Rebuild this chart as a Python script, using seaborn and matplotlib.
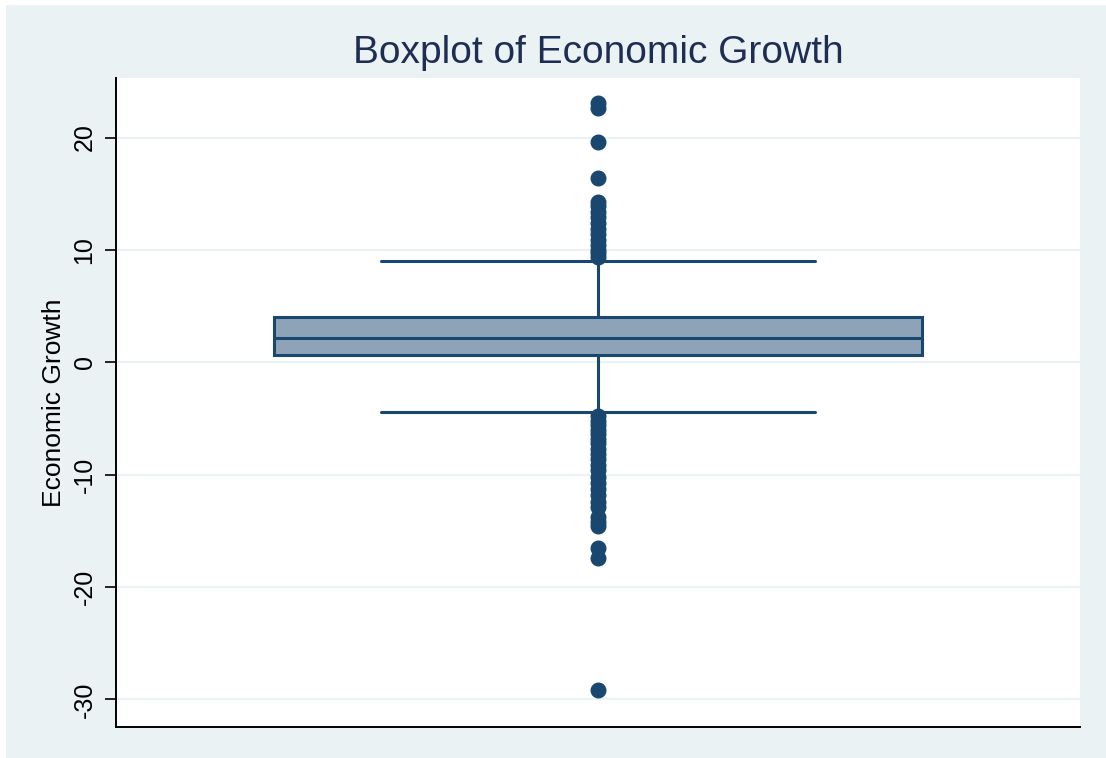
import matplotlib
matplotlib.use("Agg")
import matplotlib.pyplot as plt
import matplotlib.patches as mpatches
import seaborn as sns
import pandas as pd

# ---- data ----
lower_outliers = [-4.8, -5.2, -5.6, -6.0, -6.4, -6.8, -7.2, -7.7, -8.2, -8.6,
                  -9.1, -9.6, -10.2, -10.7, -11.3, -11.8, -12.4, -12.9, -13.8,
                  -14.2, -14.6, -16.5, -17.4, -29.2]
lower_tail = [-4.4, -3.5, -2.6, -1.8, -0.9, -0.2, 0.65]
lower_mid = [0.7, 0.75, 0.8, 0.9, 0.95, 1.0, 1.05, 1.1, 1.2, 1.25,
             1.3, 1.35, 1.4, 1.45, 1.5, 1.55, 1.6, 1.65, 1.7, 1.75,
             1.8, 1.85, 1.9, 1.95, 2.0, 2.05, 2.1, 2.12, 2.13]
median_value = [2.15]
upper_mid = [2.2, 2.3, 2.35, 2.4, 2.5, 2.55, 2.6, 2.7, 2.75, 2.8,
             2.9, 2.95, 3.0, 3.1, 3.15, 3.2, 3.3, 3.35, 3.4, 3.5,
             3.55, 3.6, 3.7, 3.75, 3.8, 3.85, 3.9, 3.95, 4.0]
upper_tail = [4.05, 4.4, 4.8, 5.1, 5.5, 5.9, 6.2, 6.6, 6.9, 7.3, 7.6,
              7.9, 8.3, 8.7, 9.0]
upper_outliers = [9.4, 9.7, 10.0, 10.4, 10.9, 11.4, 11.9, 12.4, 12.9, 13.4,
                  13.9, 14.3, 16.4, 19.6, 22.6, 23.1]
y_ticks = [-30, -20, -10, 0, 10, 20]
y_tick_labels = ["-30", "-20", "-10", "0", "10", "20"]
title_text = "Boxplot of Economic Growth"
y_label = "Economic Growth"

growth = (lower_outliers + lower_tail + lower_mid + median_value +
          upper_mid + upper_tail + upper_outliers)
df = pd.DataFrame({"growth": growth})

# ---- style ----
navy = "#1A476F"
fill = "#8EA3B8"
bg = "#EAF2F3"

sns.set_theme(style="white")
plt.rcParams["font.family"] = ["Liberation Sans", "DejaVu Sans"]
plt.rcParams["text.color"] = "black"
plt.rcParams["axes.labelcolor"] = "black"
plt.rcParams["ytick.color"] = "black"

fig = plt.figure(figsize=(11.06, 7.58), dpi=100)
fig.patch.set_facecolor("white")
fig.patches.append(mpatches.Rectangle((6 / 1106, 0), 1 - 6 / 1106, 753 / 758,
                                      transform=fig.transFigure,
                                      facecolor=bg, edgecolor="none", zorder=-10))

ax = fig.add_axes([116 / 1106, 1 - 727 / 758, (1080 - 116) / 1106, (727 - 78) / 758])
ax.set_facecolor("white")

sns.boxplot(data=df, y="growth", ax=ax, width=0.673, color=fill,
            linecolor=navy, linewidth=2.2, whis=1.5, saturation=1,
            capwidths=0.45,
            flierprops=dict(marker="o", markerfacecolor=navy,
                            markeredgecolor=navy, markersize=10.5),
            boxprops=dict(facecolor=fill, edgecolor=navy, linewidth=2.2),
            medianprops=dict(color=navy, linewidth=2.2),
            whiskerprops=dict(color=navy, linewidth=2.2),
            capprops=dict(color=navy, linewidth=2.2))

ax.set_xlim(-0.5, 0.5)
ax.set_ylim(-32.45, 25.3)
ax.set_yticks(y_ticks)
ax.set_yticklabels(y_tick_labels, rotation=90, va="center", fontsize=18,
                   color="black")
ax.set_xticks([])
ax.set_xlabel("")
ax.set_ylabel(y_label, fontsize=19, labelpad=5, color="black")

ax.yaxis.grid(True, color=bg, linewidth=1.6)
ax.xaxis.grid(False)
ax.set_axisbelow(True)
ax.tick_params(axis="y", which="major", left=True, length=8, width=1.2,
               color="black", labelcolor="black", pad=6)

for side in ["top", "right"]:
    ax.spines[side].set_visible(False)
for side in ["left", "bottom"]:
    ax.spines[side].set_visible(True)
    ax.spines[side].set_color("black")
    ax.spines[side].set_linewidth(1.4)

ax.set_title(title_text, fontsize=28, color="#1E2D53", pad=11)

fig.savefig("out.png", dpi=100, facecolor=fig.get_facecolor())
